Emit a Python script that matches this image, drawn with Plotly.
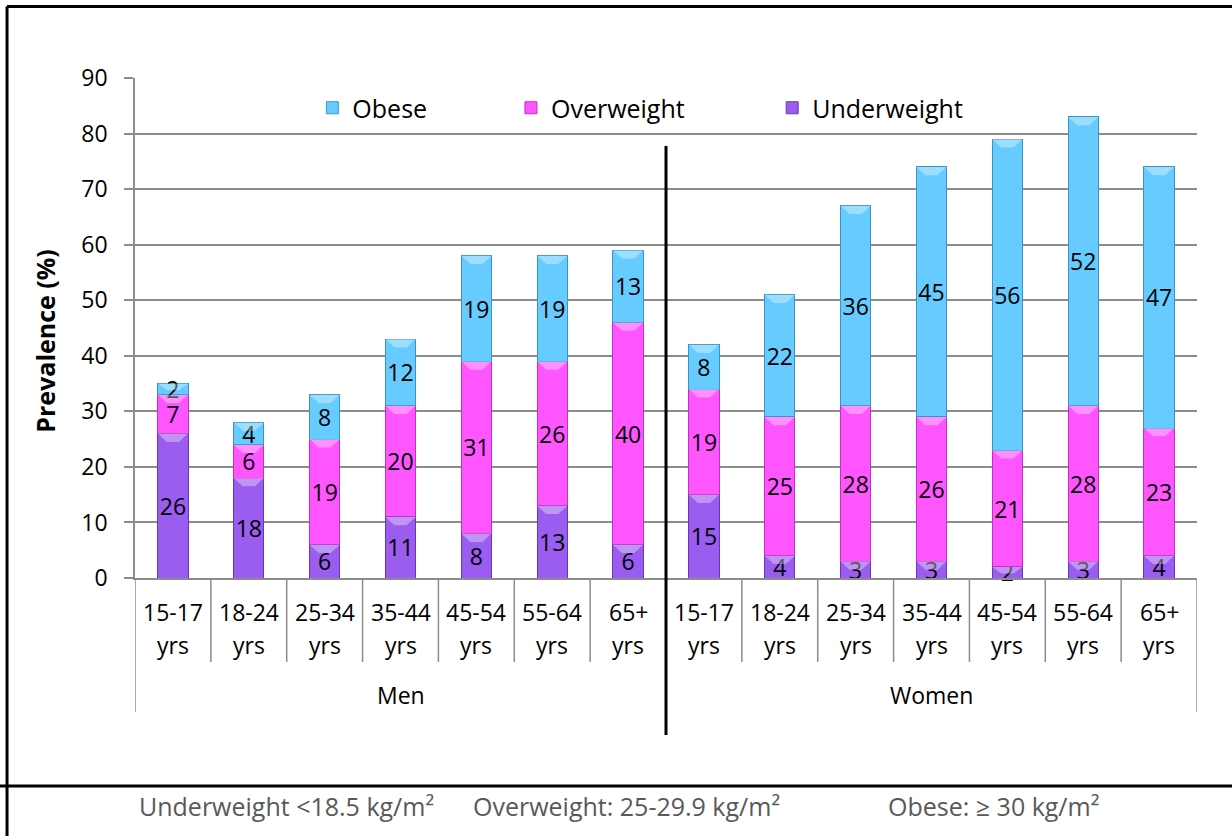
import plotly.graph_objects as go

# Prevalence (%) of weight status by sex and age group
groups = ["Men", "Women"]
age_groups = ["15-17", "18-24", "25-34", "35-44", "45-54", "55-64", "65+"]
age_unit = "yrs"

underweight = [26, 18, 6, 11, 8, 13, 6,
               15, 4, 3, 3, 2, 3, 4]
overweight = [7, 6, 19, 20, 31, 26, 40,
              19, 25, 28, 26, 21, 28, 23]
obese = [2, 4, 8, 12, 19, 19, 13,
         8, 22, 36, 45, 56, 52, 47]

y_ticks = [0, 10, 20, 30, 40, 50, 60, 70, 80, 90]
footer_notes = ["Underweight <18.5 kg/m²",
                "Overweight: 25-29.9 kg/m²",
                "Obese: ≥ 30 kg/m²"]

FONT = "Open Sans, Noto Sans, DejaVu Sans, sans-serif"
GRID = "#8C8C8C"
BAR_W = 0.4

n_per_group = len(age_groups)
n_cat = n_per_group * len(groups)
xpos = list(range(n_cat))

series = [
    # name, values, fill, edge, legend id, legend x
    ("Underweight", underweight, "#9B5CF0", "#6A35B8", "legend3", 0.600),
    ("Overweight", overweight, "#FF55FF", "#C030C0", "legend2", 0.354),
    ("Obese", obese, "#66CCFF", "#3A95C4", "legend", 0.167),
]

fig = go.Figure()
for name, vals, fill, edge, leg, _ in series:
    fig.add_trace(go.Bar(
        x=xpos, y=vals, name=name, width=BAR_W,
        marker=dict(color=fill, line=dict(color=edge, width=1)),
        text=vals, texttemplate="%{text}", textposition="inside",
        insidetextanchor="middle", textangle=0, cliponaxis=False,
        textfont=dict(family=FONT, size=23, color="black"),
        legend=leg, hoverinfo="skip",
    ))

legend_style = dict(orientation="h", yanchor="middle", y=0.94, xanchor="left",
                    bgcolor="rgba(0,0,0,0)",
                    font=dict(family=FONT, size=25, color="black"))
legends = {}
for name, vals, fill, edge, leg, lx in series:
    legends[leg] = dict(legend_style, x=lx)

shapes = []
annotations = []

# light bevel cap on top of every stacked segment
cap_h = 1.5
base = [0] * n_cat
for name, vals, fill, edge, leg, _ in series:
    for i, v in enumerate(vals):
        top = base[i] + v
        h = min(cap_h, v * 0.6)
        x0, x1 = i - BAR_W / 2, i + BAR_W / 2
        inset = BAR_W * 0.3
        path = (f"M{x0},{top} L{x1},{top} L{x1 - inset},{top - h} "
                f"L{x0 + inset},{top - h} Z")
        shapes.append(dict(type="path", xref="x", yref="y", path=path,
                           fillcolor="rgba(255,255,255,0.35)",
                           line=dict(width=0), layer="above"))
        base[i] = top

# category separators below the x axis
for k in range(n_cat + 1):
    b = k - 0.5
    if k in (0, n_cat):
        y_end = -0.268
    else:
        y_end = -0.168
    shapes.append(dict(type="line", xref="x", yref="paper", x0=b, x1=b,
                       y0=0, y1=y_end, line=dict(color=GRID, width=1.5)))

# divider between the two sex groups
mid = n_per_group - 0.5
shapes.append(dict(type="line", xref="x", yref="paper", x0=mid, x1=mid,
                   y0=0.864, y1=-0.314, line=dict(color="black", width=3)))

# outer frame and footer rule
shapes.append(dict(type="line", xref="paper", yref="paper", x0=-0.1205, x1=1.05,
                   y0=1.143, y1=1.143, line=dict(color="black", width=3)))
shapes.append(dict(type="line", xref="paper", yref="paper", x0=-0.1205, x1=-0.1205,
                   y0=1.143, y1=-0.53, line=dict(color="black", width=3)))
shapes.append(dict(type="line", xref="paper", yref="paper", x0=-0.13, x1=1.05,
                   y0=-0.416, y1=-0.416, line=dict(color="black", width=3)))

# two-line age labels and group labels
for i in xpos:
    age = age_groups[i % n_per_group]
    annotations.append(dict(x=i, y=-0.068, xref="x", yref="paper", text=age,
                            showarrow=False, yanchor="middle",
                            font=dict(family=FONT, size=23, color="black")))
    annotations.append(dict(x=i, y=-0.134, xref="x", yref="paper", text=age_unit,
                            showarrow=False, yanchor="middle",
                            font=dict(family=FONT, size=23, color="black")))
for g, name in enumerate(groups):
    cx = g * n_per_group + (n_per_group - 1) / 2
    annotations.append(dict(x=cx, y=-0.234, xref="x", yref="paper", text=name,
                            showarrow=False, yanchor="middle",
                            font=dict(family=FONT, size=23, color="black")))

# y axis title
annotations.append(dict(x=-0.085, y=0.474, xref="paper", yref="paper",
                        text="<b>Prevalence (%)</b>", textangle=-90,
                        showarrow=False, xanchor="center", yanchor="middle",
                        font=dict(family=FONT, size=25, color="black")))

# footer notes
for note, fx in zip(footer_notes, [0.002, 0.316, 0.707]):
    annotations.append(dict(x=fx, y=-0.456, xref="paper", yref="paper", text=note,
                            showarrow=False, xanchor="left", yanchor="middle",
                            font=dict(family=FONT, size=25, color="#595959")))

fig.update_layout(
    width=1232, height=836,
    margin=dict(l=135, r=35, t=78, b=258),
    paper_bgcolor="white", plot_bgcolor="white",
    barmode="stack", bargap=0.6,
    showlegend=True,
    shapes=shapes, annotations=annotations,
    uniformtext=dict(minsize=23, mode="show"),
    **legends,
)
fig.update_xaxes(range=[-0.5, n_cat - 0.5], showticklabels=False, ticks="",
                 showgrid=False, zeroline=False, showline=True,
                 linecolor=GRID, linewidth=1.5)
fig.update_yaxes(range=[0, 90], tickvals=y_ticks, ticks="outside", ticklen=9,
                 tickcolor=GRID, tickwidth=1.5, ticklabelstandoff=12,
                 showgrid=True, gridcolor=GRID, gridwidth=1.5,
                 zeroline=False, showline=True, linecolor=GRID, linewidth=1.5,
                 tickfont=dict(family=FONT, size=23, color="black"))

fig.write_html("out.html")
